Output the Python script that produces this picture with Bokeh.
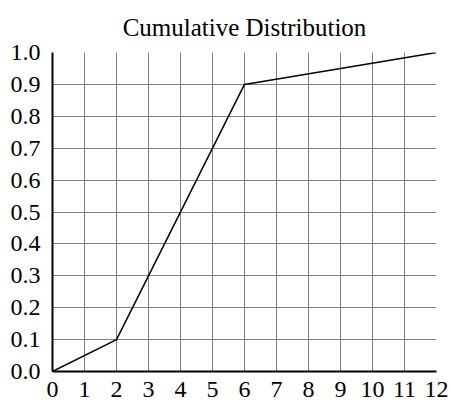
from bokeh.plotting import figure
from bokeh.models import FixedTicker, Range1d
from bokeh.embed import file_html
from bokeh.resources import INLINE

x_vals = [0, 2, 6, 12]
y_vals = [0.0, 0.1, 0.9, 1.0]
x_ticks = list(range(0, 13))
y_ticks = [0.0, 0.1, 0.2, 0.3, 0.4, 0.5, 0.6, 0.7, 0.8, 0.9, 1.0]
y_labels = {v: f"{v:.1f}" for v in y_ticks}
title_text = "Cumulative Distribution"

FONT = "Liberation Serif"

p = figure(width=448, height=405, output_backend="svg", toolbar_location=None,
           x_range=Range1d(0, 12), y_range=Range1d(0, 1),
           title=title_text,
           min_border_left=52, min_border_right=12, min_border_bottom=34, min_border_top=51)
p.outline_line_color = None
p.title.align = "center"
p.title.text_font = FONT
p.title.text_font_style = "normal"
p.title.text_font_size = "25px"
p.title.text_color = "black"
p.title.standoff = 23

p.line(x_vals, y_vals, line_color="black", line_width=1.5)

p.xaxis.ticker = FixedTicker(ticks=x_ticks)
p.yaxis.ticker = FixedTicker(ticks=y_ticks)
p.yaxis.major_label_overrides = {v: y_labels[v] for v in y_ticks}
for ax in (p.xaxis, p.yaxis):
    ax.major_tick_line_color = None
    ax.minor_tick_line_color = None
    ax.axis_line_color = "black"
    ax.axis_line_width = 2
    ax.major_label_text_font = FONT
    ax.major_label_text_font_size = "24px"
    ax.major_label_text_color = "black"
p.xaxis.major_label_standoff = 4
p.yaxis.major_label_standoff = 6

p.xgrid.grid_line_color = "#808080"
p.ygrid.grid_line_color = "#808080"
p.xgrid.grid_line_alpha = 1.0
p.ygrid.grid_line_alpha = 1.0

open("out.html", "w").write(file_html(p, INLINE))
